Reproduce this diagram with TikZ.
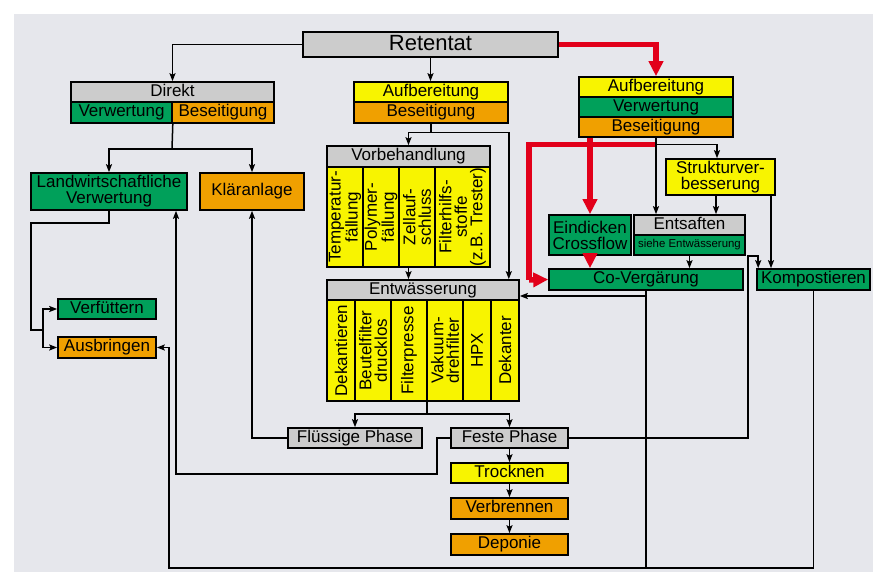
\documentclass[tikz,border=0pt]{standalone}
\usepackage{fontspec}
\setmainfont{Liberation Sans}
\usetikzlibrary{arrows.meta}
\definecolor{bgc}{HTML}{E6E7EC}
\definecolor{gr}{HTML}{CCCCCC}
\definecolor{ye}{HTML}{F8F400}
\definecolor{gn}{HTML}{00A05A}
\definecolor{og}{HTML}{F0A000}
\definecolor{rd}{HTML}{E2001A}
\begin{document}
\begin{tikzpicture}[x=1pt,y=-1pt,
  box/.style={draw, line width=1.6pt, inner sep=0pt, align=center,
    font=\fontsize{17}{16}\selectfont},
  one/.style={text height=12pt, text depth=3.5pt},
  col/.style={box, fill=ye, rotate=90, font=\fontsize{17}{15.5}\selectfont},
  ln/.style={line width=1.5pt},
  arr/.style={ln, -{Stealth[length=8pt,width=6pt,inset=1.5pt]}},
  rln/.style={rd, line width=5.5pt},
  rarr/.style={rln, -{Triangle[length=15pt,width=14pt]}}]
\useasboundingbox (0,0) rectangle (873,572);
\fill[white] (0,0) rectangle (873,572);
\fill[bgc] (14,14) rectangle (873,572);

% top
\node[box, fill=gr, minimum width=255, minimum height=25, font=\fontsize{22}{22}\selectfont, text height=16pt, text depth=4pt] (ret) at (430.5,44.5) {Retentat};

\node[box, one, fill=gr, minimum width=203, minimum height=20] (dir) at (172.5,92) {Direkt};
\node[box, one, fill=gn, minimum width=101, minimum height=21] (dirV) at (121.5,112.5) {Verwertung};
\node[box, one, fill=og, minimum width=102, minimum height=21] (dirB) at (223,112.5) {Beseitigung};

\node[box, one, fill=ye, minimum width=154, minimum height=20] (auf1) at (431,92) {Aufbereitung};
\node[box, one, fill=og, minimum width=154, minimum height=21] (auf1B) at (431,112.5) {Beseitigung};

\node[box, one, fill=ye, minimum width=154, minimum height=20] (auf2) at (656,87) {Aufbereitung};
\node[box, one, fill=gn, minimum width=154, minimum height=20] (auf2V) at (656,107) {Verwertung};
\node[box, one, fill=og, minimum width=154, minimum height=20] (auf2B) at (656,127) {Beseitigung};

% left
\node[box, fill=gn, minimum width=156, minimum height=37] (landw) at (109,191.5) {Landwirtschaftliche\\Verwertung};
\node[box, one, fill=og, minimum width=104, minimum height=37] (klaer) at (252,191.5) {Kläranlage};
\node[box, one, fill=gn, minimum width=98, minimum height=20] (verf) at (107,309) {Verfüttern};
\node[box, one, fill=og, minimum width=98, minimum height=21] (ausb) at (107,347.5) {Ausbringen};

% Vorbehandlung
\node[box, one, fill=gr, minimum width=163, minimum height=21] (vorb) at (408.5,156.5) {Vorbehandlung};
\node[box, fill=ye, minimum width=163, minimum height=100] (vorbBody) at (408.5,217) {};
\node[col, minimum width=100, minimum height=36] (v1) at (345,217) {Temperatur-\\fällung};
\node[col, minimum width=100, minimum height=36] (v2) at (381,217) {Polymer-\\fällung};
\node[col, minimum width=100, minimum height=36] (v3) at (417,217) {Zellauf-\\schluss};
\node[col, minimum width=100, minimum height=55] (v4) at (462.5,217) {Filterhilfs-\\stoffe\\(z.B. Trester)};

% Entwaesserung
\node[box, one, fill=gr, minimum width=192, minimum height=20] (entw) at (423,290) {Entwässerung};
\node[box, fill=ye, minimum width=192, minimum height=101] (entwBody) at (423,350.5) {};
\node[col, minimum width=101, minimum height=28] (w1) at (341,350.5) {Dekantieren};
\node[col, minimum width=101, minimum height=36] (w2) at (373,350.5) {Beutelfilter\\drucklos};
\node[col, minimum width=101, minimum height=36] (w3) at (409,350.5) {Filterpresse};
\node[col, minimum width=101, minimum height=36] (w4) at (445,350.5) {Vakuum-\\drehfilter};
\node[col, minimum width=101, minimum height=28] (w5) at (477,350.5) {HPX};
\node[col, minimum width=101, minimum height=28] (w6) at (505,350.5) {Dekanter};

% phases
\node[box, one, fill=gr, minimum width=134, minimum height=20] (fl) at (355,438) {Flüssige Phase};
\node[box, one, fill=gr, minimum width=117, minimum height=20] (fest) at (509.5,438) {Feste Phase};
\node[box, one, fill=ye, minimum width=117, minimum height=20] (trock) at (509.5,473) {Trocknen};
\node[box, one, fill=og, minimum width=117, minimum height=21] (verbr) at (509.5,508.5) {Verbrennen};
\node[box, one, fill=og, minimum width=117, minimum height=21] (depo) at (509.5,544.5) {Deponie};

% right
\node[box, fill=ye, minimum width=109, minimum height=36] (struk) at (720.5,177) {Strukturver-\\besserung};
\node[box, fill=gn, minimum width=82, minimum height=40] (eind) at (590,235) {Eindicken\\Crossflow};
\node[box, one, fill=gr, minimum width=111, minimum height=20] (ents) at (689.5,225) {Entsaften};
\node[box, fill=gn, minimum width=111, minimum height=20, font=\fontsize{11.4}{12}\selectfont] (entsS) at (689.5,245) {siehe Entwässerung};
\node[box, one, fill=gn, minimum width=194, minimum height=21] (cov) at (646,279.5) {Co-Vergärung};
\node[box, one, fill=gn, minimum width=113, minimum height=21] (komp) at (813.5,279.5) {Kompostieren};

% coordinates
\coordinate (c1) at (172,149);
\coordinate (l1) at (31,223);
\coordinate (l2) at (31,330);
\coordinate (l3) at (43,330);
\coordinate (f1) at (437,474);
\coordinate (f2) at (176,474);
\coordinate (a1) at (431,132.5);
\coordinate (e1) at (427,414);
\coordinate (k1) at (748,256);
\coordinate (s1) at (656,144.5);
\coordinate (r1) at (529,144.5);
\coordinate (cv1) at (646,296);
\coordinate (b1) at (813.5,568);
\coordinate (b2) at (169,568);

% red connectors
\draw[rarr] (ret.east) -| (auf2.north);
\draw[rln, line join=miter] (s1) -- (r1) -- (r1 |- cov.west);
\draw[rarr] ([yshift=-0.5pt]r1 |- cov.west) -- (cov.west);
\draw[rarr] (eind.north |- auf2B.south) -- (eind.north);
\draw[rarr] (eind.south) -- (eind.south |- cov.north);

% black connectors
\draw[arr] (ret.west) -| (dir.north);
\draw[arr] (ret.south) -- (ret.south |- auf1.north);
\draw[ln] (dirV.south east) -- (c1);
\draw[arr] (c1) -| (landw.north);
\draw[arr] (c1) -| (klaer.north);
\draw[ln] (landw.south) |- (l1) -- (l2) -- (l3);
\draw[arr] (l3) |- (verf.west);
\draw[arr] (l3) |- (ausb.west);
\draw[arr] (fest.west) -| (f1) -- (f2) -- (f2 |- landw.south);
\draw[arr] (fl.west) -| (klaer.south);
\draw[ln] (auf1B.south) -- (a1);
\draw[arr] (a1) -| (vorb.north);
\draw[arr] (a1) -| ([xshift=-11pt]entw.north east);
\draw[arr] (vorbBody.south) -- (vorbBody.south |- entw.north);
\draw[ln] (entwBody.south -| e1) -- (e1);
\draw[arr] (e1) -| (fl.north);
\draw[arr] (e1) -| (fest.north);
\draw[arr] (fest.south) -- (trock.north);
\draw[arr] (trock.south) -- (verbr.north);
\draw[arr] (verbr.south) -- (depo.north);
\draw[arr] (fest.east) -| (k1) -| ([xshift=2pt]komp.north west);
\draw[arr] (auf2B.south) -- (auf2B.south |- ents.north);
\draw[arr] (s1) -| ([xshift=-3.5pt]struk.north);
\draw[arr] ([xshift=-4.5pt]struk.south) -- ([xshift=-4.5pt]struk.south |- ents.north);
\draw[arr] ([xshift=50.5pt]struk.south) -- ([xshift=50.5pt]struk.south |- komp.north);
\draw[arr] (entsS.south) -- (entsS.south |- cov.north);
\draw[arr] (cov.south) -- (cv1) -- (cv1 -| entw.east);
\draw[ln] (cv1) -- (cv1 |- b1);
\draw[arr] (komp.south) -- (b1) -- (b2) |- (ausb.east);
\end{tikzpicture}
\end{document}
